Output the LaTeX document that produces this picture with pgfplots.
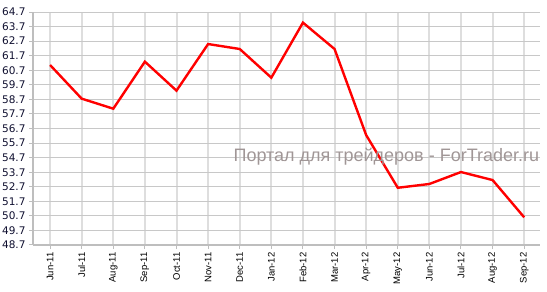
\documentclass[border=0pt]{standalone}
\usepackage{pgfplots}
\pgfplotsset{compat=1.18}
\usepackage{fontspec}
\setmainfont{Liberation Sans}
\newfontfamily\tickfont{DejaVu Sans}
\definecolor{hgrid}{RGB}{200,200,200}
\definecolor{vgrid}{RGB}{222,222,222}
\definecolor{axgray}{RGB}{190,190,190}
\definecolor{lblcol}{RGB}{16,16,48}
\definecolor{wmark}{RGB}{160,150,150}
\begin{document}
\begin{tikzpicture}[x=1pt,y=1pt]
\path[use as bounding box] (-33pt,-47pt) rectangle (514pt,245pt);
\begin{axis}[
  at={(0,0)}, anchor=south west,
  width=507pt, height=233pt, scale only axis,
  xmin=-0.54, xmax=15.5,
  ymin=48.7, ymax=64.7,
  ytick={48.7,49.7,...,64.7},
  xtick={0,...,15},
  xticklabels={Jun-11,Jul-11,Aug-11,Sep-11,Oct-11,Nov-11,Dec-11,Jan-12,Feb-12,Mar-12,Apr-12,May-12,Jun-12,Jul-12,Aug-12,Sep-12},
  x tick label style={rotate=90, anchor=east, font=\fontsize{9.5}{11}\selectfont, color=black},
  y tick label style={font=\tickfont\fontsize{10.5}{12}\selectfont, color=lblcol, /pgf/number format/fixed, /pgf/number format/precision=1, /pgf/number format/fixed zerofill},
  /pgf/number format/assume math mode=true,
  axis x line*=bottom, axis y line*=left,
  x axis line style={draw=axgray, line width=2.5pt, -},
  y axis line style={draw=axgray, line width=1.5pt, -},
  xmajorgrids, ymajorgrids,
  x grid style={draw=vgrid, line width=2pt},
  y grid style={draw=hgrid, line width=1pt},
  major tick length=4pt,
  tick style={draw=axgray, line width=1pt},
  tick align=outside,
  clip=false,
]
\addplot[red, line width=2.4pt, no marks] coordinates {
(0,61.06) (1,58.75) (2,58.06) (3,61.29) (4,59.3) (5,62.5) (6,62.16) (7,60.19)
(8,63.97) (9,62.16) (10,56.25) (11,52.63) (12,52.89) (13,53.71) (14,53.16) (15,50.6)
};
\node[anchor=center, text=wmark, font=\fontsize{18}{21}\selectfont] at (rel axis cs:0.697,0.378) {Портал для трейдеров - ForTrader.ru};
\end{axis}
\end{tikzpicture}
\end{document}
